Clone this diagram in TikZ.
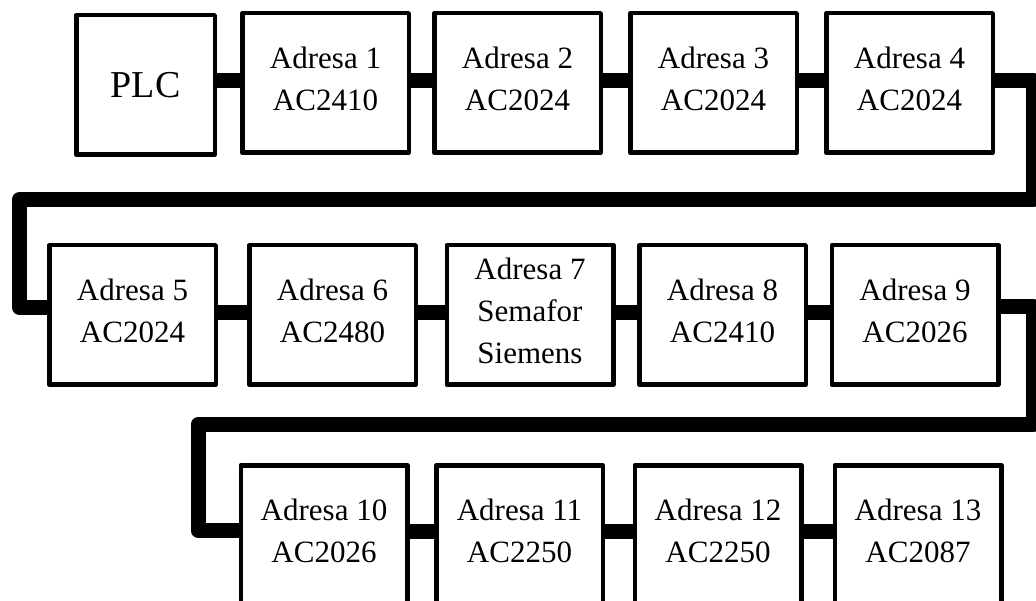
\documentclass[tikz,border=0pt]{standalone}
\usepackage{fontspec}
\setmainfont{Liberation Serif}
\tikzset{
  kutija/.style={draw,line width=4.5pt,line join=round,fill=white,minimum width=166.5pt,minimum height=139.5pt,inner sep=0pt,align=center},
  modul/.style={kutija,font=\fontsize{31}{42}\selectfont,execute at end node={\rule[-9pt]{0pt}{0pt}}},
  bus/.style={line width=15pt,line join=round}
}
\begin{document}
\begin{tikzpicture}[x=1pt,y=-1pt]
\useasboundingbox (0,0) rectangle (1036,601);
\clip (0,0) rectangle (1036,601);

\node[kutija,minimum width=138.5pt,font=\fontsize{38}{46}\selectfont] (plc) at (145.5,85) {PLC};
\node[modul] (a1) at (325.5,83) {Adresa 1\\AC2410};
\node[modul] (a2) at (517.5,83) {Adresa 2\\AC2024};
\node[modul] (a3) at (713.5,83) {Adresa 3\\AC2024};
\node[modul] (a4) at (909.5,83) {Adresa 4\\AC2024};

\node[modul] (a5) at (132.5,315) {Adresa 5\\AC2024};
\node[modul] (a6) at (332.5,315) {Adresa 6\\AC2480};
\node[modul] (a7) at (530,315) {Adresa 7\\Semafor\\Siemens};
\node[modul] (a8) at (722.5,315) {Adresa 8\\AC2410};
\node[modul] (a9) at (915,315) {Adresa 9\\AC2026};

\node[modul] (a10) at (324,535) {Adresa 10\\AC2026};
\node[modul] (a11) at (519.5,535) {Adresa 11\\AC2250};
\node[modul] (a12) at (718,535) {Adresa 12\\AC2250};
\node[modul] (a13) at (918,535) {Adresa 13\\AC2087};

\draw[bus] ([yshift=4pt]plc.east) -- ([yshift=2pt]a1.west);
\draw[bus] ([yshift=2pt]a1.east) -- ([yshift=2pt]a2.west);
\draw[bus] ([yshift=2pt]a2.east) -- ([yshift=2pt]a3.west);
\draw[bus] ([yshift=2pt]a3.east) -- ([yshift=2pt]a4.west);

\coordinate (r1) at (1033,199.5);
\coordinate (l1) at (19.5,199.5);
\draw[bus] ([yshift=2pt]a4.east) -| (r1) -- (l1) |- ([yshift=7.5pt]a5.west);

\draw[bus] ([yshift=2pt]a5.east) -- ([yshift=2pt]a6.west);
\draw[bus] ([yshift=2pt]a6.east) -- ([yshift=2pt]a7.west);
\draw[bus] ([yshift=2pt]a7.east) -- ([yshift=2pt]a8.west);
\draw[bus] ([yshift=2pt]a8.east) -- ([yshift=2pt]a9.west);

\coordinate (r2) at (1033,424.5);
\coordinate (l2) at (198,424.5);
\draw[bus] ([yshift=8.5pt]a9.east) -| (r2) -- (l2) |- ([yshift=4.5pt]a10.west);

\draw[bus] ([yshift=4pt]a10.east) -- ([yshift=4pt]a11.west);
\draw[bus] ([yshift=4pt]a11.east) -- ([yshift=4pt]a12.west);
\draw[bus] ([yshift=4pt]a12.east) -- ([yshift=4pt]a13.west);
\end{tikzpicture}
\end{document}
